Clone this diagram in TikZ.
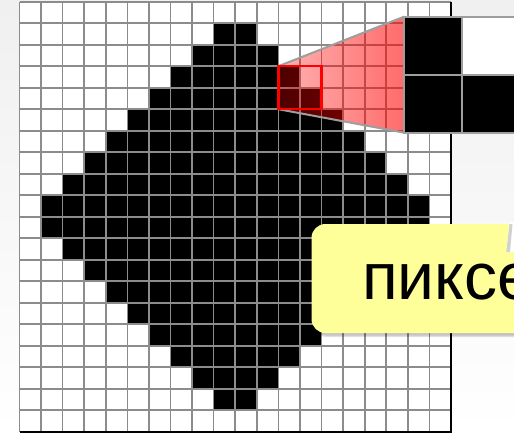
\documentclass[tikz,border=0pt]{standalone}
\usepackage{fontspec}
\setmainfont{Liberation Sans}
\usetikzlibrary{fadings, calc}
\definecolor{notebg}{RGB}{255,255,153}
\tikzfading[name=magfade, left color=transparent!70, right color=transparent!42]

\begin{document}
\begin{tikzpicture}[
    x=1pt, y=-1pt,
    % Grid and cell styling
    gridline/.style={draw=black!45, line width=1.6pt},
    pixel/.style={fill=black},
    % Magnifier styling
    zoomedge/.style={draw=black!38, line width=2pt},
    bigpixel/.style={draw=black!38, line width=2pt},
    selbox/.style={draw=red, line width=2.2pt},
    % Callout styling
    note/.style={fill=notebg, rounded corners=14pt},
    noteshadow/.style={fill=black, opacity=0.12, rounded corners=14pt}
]
    \useasboundingbox (0,0) rectangle (514,434);
    \clip (0,0) rectangle (514,434);

    % ==========================================
    % 1. BACKGROUND AND PIXEL GRID
    % ==========================================
    \shade[top color=black!6, bottom color=white] (0,0) rectangle (514,434);

    \def\gx{19.5}
    \def\gy{1.7}
    \def\cw{21.575}
    \def\ch{21.5}
    \coordinate (gridNW) at (\gx,\gy);
    \coordinate (gridSE) at ({\gx+20*\cw},{\gy+20*\ch});
    \fill[white] (gridNW) rectangle (gridSE);

    % Black diamond, one run of pixels per row
    \foreach \r in {1,...,18}{
        \pgfmathtruncatemacro\k{min(\r,19-\r)}
        \fill[pixel] ({\gx+(10-\k)*\cw},{\gy+\r*\ch}) rectangle ({\gx+(10+\k)*\cw},{\gy+(\r+1)*\ch});
    }

    % Grid lines
    \foreach \i in {0,...,20}{
        \draw[gridline] ({\gx+\i*\cw},\gy) -- ({\gx+\i*\cw},{\gy+20*\ch});
        \draw[gridline] (\gx,{\gy+\i*\ch}) -- ({\gx+20*\cw},{\gy+\i*\ch});
    }
    \draw[line width=1.8pt] (gridSE -| gridNW) -- (gridSE) -- (gridSE |- gridNW);

    % ==========================================
    % 2. MAGNIFIER
    % ==========================================
    \coordinate (sqNW) at ({\gx+12*\cw},{\gy+3*\ch});
    \coordinate (sqSE) at ({\gx+14*\cw},{\gy+5*\ch});
    \coordinate (sqSW) at ({\gx+12*\cw},{\gy+5*\ch});
    \coordinate (boxNW) at (404.3,16.6);
    \coordinate (boxSW) at (404.3,132.7);

    \fill[red, path fading=magfade] (sqNW) -- (boxNW) -- (boxSW) -- (sqSW) -- cycle;
    \draw[zoomedge] (sqNW) -- (boxNW);
    \draw[zoomedge] (sqSW) -- (boxSW);
    \draw[selbox] (sqNW) rectangle (sqSE);

    % Enlarged 2x2 pixels
    \foreach \c/\r/\col in {0/0/black, 1/0/white, 0/1/black, 1/1/black}{
        \filldraw[bigpixel, fill=\col] ($(boxNW)+(\c*57.5,\r*58.05)$) rectangle ++(57.5,58.05);
    }

    % ==========================================
    % 3. CALLOUT
    % ==========================================
    \fill[noteshadow] (313,227) rectangle (560,337);
    \fill[noteshadow] (312.5,226) rectangle (560,335.5);
    \fill[note] (311.5,224) rectangle (560,333);
    \fill[white] (509.5,222) -- (506.3,252) -- (520,252) -- (520,222) -- cycle;
    \fill[black, opacity=0.18] (509.5,224) -- (506.3,252) -- (510,252) -- (512.5,224) -- cycle;
    \node[anchor=base west, inner sep=0, font=\fontsize{66}{70}\selectfont] (lbl) at (362,299.3) {пиксе};

\end{tikzpicture}
\end{document}
